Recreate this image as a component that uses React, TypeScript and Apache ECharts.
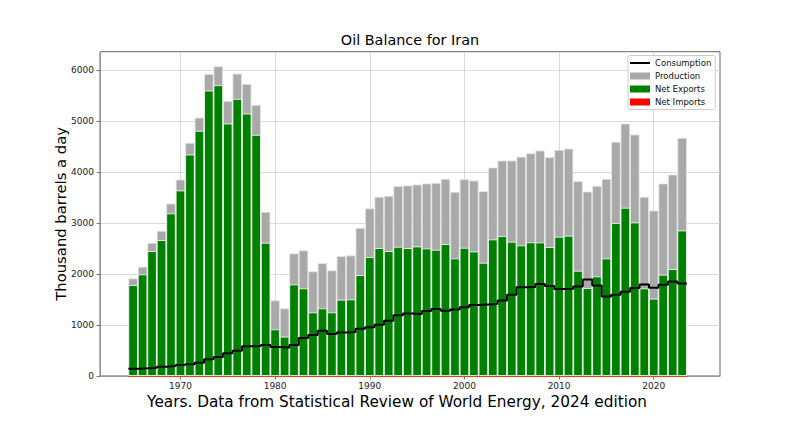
import React, { useEffect, useRef } from "react";
import * as echarts from "echarts";

const years = [
  1965, 1966, 1967, 1968, 1969, 1970, 1971, 1972, 1973, 1974,
  1975, 1976, 1977, 1978, 1979, 1980, 1981, 1982, 1983, 1984,
  1985, 1986, 1987, 1988, 1989, 1990, 1991, 1992, 1993, 1994,
  1995, 1996, 1997, 1998, 1999, 2000, 2001, 2002, 2003, 2004,
  2005, 2006, 2007, 2008, 2009, 2010, 2011, 2012, 2013, 2014,
  2015, 2016, 2017, 2018, 2019, 2020, 2021, 2022, 2023,
];

const production = [
  1915, 2144, 2614, 2850, 3386, 3856, 4575, 5072, 5928, 6078,
  5399, 5935, 5732, 5320, 3222, 1484, 1327, 2405, 2464, 2052,
  2216, 2072, 2353, 2366, 2908, 3288, 3516, 3536, 3725, 3739,
  3758, 3778, 3791, 3869, 3614, 3863, 3837, 3627, 4092, 4229,
  4229, 4304, 4370, 4425, 4294, 4438, 4464, 3824, 3621, 3732,
  3869, 4595, 4954, 4739, 3516, 3248, 3778, 3954, 4673,
];

const netExports = [
  1784, 1993, 2451, 2667, 3190, 3641, 4346, 4810, 5601, 5706,
  4954, 5438, 5150, 4732, 2614, 915, 771, 1797, 1719, 1248,
  1327, 1248, 1497, 1503, 1980, 2333, 2510, 2451, 2536, 2510,
  2542, 2503, 2477, 2588, 2307, 2516, 2444, 2222, 2680, 2745,
  2634, 2562, 2624, 2621, 2529, 2732, 2752, 2065, 1725, 1954,
  2307, 3000, 3301, 3013, 1719, 1516, 1987, 2098, 2856,
];

const netImports = [
  0, 0, 0, 0, 0, 0, 0, 0, 0, 0,
  0, 0, 0, 0, 0, 0, 0, 0, 0, 0,
  0, 0, 0, 0, 0, 0, 0, 0, 0, 0,
  0, 0, 0, 0, 0, 0, 0, 0, 0, 0,
  0, 0, 0, 0, 0, 0, 0, 0, 0, 0,
  0, 0, 0, 0, 0, 0, 0, 0, 0,
];

const consumption = [
  140, 151, 163, 183, 196, 215, 229, 262, 327, 372,
  445, 497, 582, 588, 608, 569, 556, 608, 745, 804,
  889, 824, 856, 863, 928, 955, 1006, 1085, 1190, 1229,
  1216, 1275, 1314, 1281, 1307, 1347, 1393, 1405, 1412, 1484,
  1595, 1742, 1746, 1804, 1765, 1706, 1712, 1759, 1896, 1778,
  1562, 1595, 1653, 1726, 1797, 1732, 1791, 1856, 1817,
];

const xTicks = [1970, 1980, 1990, 2000, 2010, 2020];
const yTicks = [0, 1000, 2000, 3000, 4000, 5000, 6000];

const FONT = "DejaVu Sans";

export default function App() {
  const ref = useRef<HTMLDivElement>(null);

  useEffect(() => {
    if (!ref.current) return;
    const chart = echarts.init(ref.current, null, { renderer: "svg" });

    const pair = (vals: number[]) => years.map((y, i) => [y, vals[i]]);
    const stepData = years.map((y, i) => [y - 0.5, consumption[i]]);
    stepData.push([years[years.length - 1] + 0.5, consumption[consumption.length - 1]]);
    const firstYear = years[0];
    const lastYear = years[years.length - 1];

    const barW = 9.466;
    const barBase = {
      type: "bar" as const,
      barWidth: barW,
      barGap: "-100%",
    };

    chart.setOption({
      animation: false,
      backgroundColor: "#ffffff",
      textStyle: { fontFamily: FONT },
      grid: {
        left: 100,
        right: 80,
        top: 51.7,
        bottom: 55,
        show: true,
        borderColor: "#666",
        borderWidth: 1,
        backgroundColor: "transparent",
      },
      graphic: [
        {
          type: "text",
          x: 410,
          y: 33,
          style: {
            text: "Oil Balance for Iran",
            textAlign: "center",
            textVerticalAlign: "top",
            fontFamily: FONT,
            fontSize: 14.4,
            fill: "#000",
          },
        },
      ],
      legend: {
        orient: "vertical",
        left: 628,
        top: 55.5,
        itemWidth: 20,
        itemHeight: 7,
        itemGap: 4,
        padding: [3, 4, 3, 2],
        borderColor: "#cccccc",
        borderWidth: 1,
        borderRadius: 2,
        backgroundColor: "rgba(255,255,255,0.85)",
        textStyle: { fontFamily: FONT, fontSize: 8.5, color: "#111" },
        itemStyle: { borderWidth: 0 },
        data: [
          { name: "Consumption", icon: "path://M0,0 L20,0 L20,2 L0,2 Z", itemStyle: { color: "#000" } },
          { name: "Production", icon: "rect" },
          { name: "Net Exports", icon: "rect" },
          { name: "Net Imports", icon: "rect" },
        ],
      },
      xAxis: {
        type: "value",
        min: 1961.5,
        max: 2027,
        name: "Years. Data from Statistical Review of World Energy, 2024 edition",
        nameLocation: "middle",
        nameGap: 13,
        nameTextStyle: {
          fontFamily: FONT,
          fontSize: 15.3,
          color: "#000",
          padding: [0, 26, 0, 0],
        },
        axisLine: { show: true, onZero: false, lineStyle: { color: "#999", width: 1 } },
        axisTick: {
          show: true,
          length: 3.5,
          customValues: xTicks,
          lineStyle: { color: "#555", width: 0.8 },
        },
        axisLabel: {
          customValues: xTicks,
          fontFamily: FONT,
          fontSize: 9,
          color: "#222",
          margin: 5,
          formatter: (v: number) => String(v),
        },
        splitLine: { show: true, lineStyle: { color: "#cfcfcf", width: 0.8 } },
      },
      yAxis: {
        type: "value",
        min: 0,
        max: 6365,
        name: "Thousand barrels a day",
        nameLocation: "middle",
        nameGap: 32,
        nameMoveOverlap: false,
        nameTextStyle: { fontFamily: FONT, fontSize: 14.8, color: "#000" },
        axisLine: { show: true, lineStyle: { color: "#999", width: 1 } },
        axisTick: {
          show: true,
          length: 3.5,
          customValues: yTicks,
          lineStyle: { color: "#555", width: 0.8 },
        },
        axisLabel: {
          customValues: yTicks,
          fontFamily: FONT,
          fontSize: 9,
          color: "#222",
          margin: 6,
          formatter: (v: number) => String(v),
        },
        splitLine: { show: true, lineStyle: { color: "#cfcfcf", width: 0.8 } },
      },
      series: [
        {
          ...barBase,
          name: "Production",
          data: pair(production),
          itemStyle: { color: "#a9a9a9", borderColor: "#e6e6e6", borderWidth: 0.8 },
          z: 2,
        },
        {
          ...barBase,
          name: "Net Exports",
          data: pair(netExports),
          itemStyle: { color: "#008000", borderColor: "#ffffff", borderWidth: 0.8 },
          z: 3,
        },
        {
          ...barBase,
          name: "Net Imports",
          data: pair(netImports),
          itemStyle: { color: "#ff0000", borderWidth: 0 },
          z: 4,
          markLine: {
            silent: true,
            symbol: "none",
            label: { show: false },
            lineStyle: { color: "#e8400c", width: 1.2, type: "solid" },
            data: [[{ coord: [firstYear - 0.5, 0] }, { coord: [lastYear + 0.5, 0] }]],
          },
        },
        {
          type: "line",
          name: "Consumption",
          data: stepData,
          step: "end",
          symbol: "none",
          showSymbol: false,
          lineStyle: { color: "#000", width: 2 },
          itemStyle: { color: "#000" },
          z: 5,
        },
      ],
    });

    return () => chart.dispose();
  }, []);

  return (
    <div
      ref={ref}
      style={{ position: "fixed", left: 0, top: 0, width: 800, height: 431 }}
    />
  );
}
